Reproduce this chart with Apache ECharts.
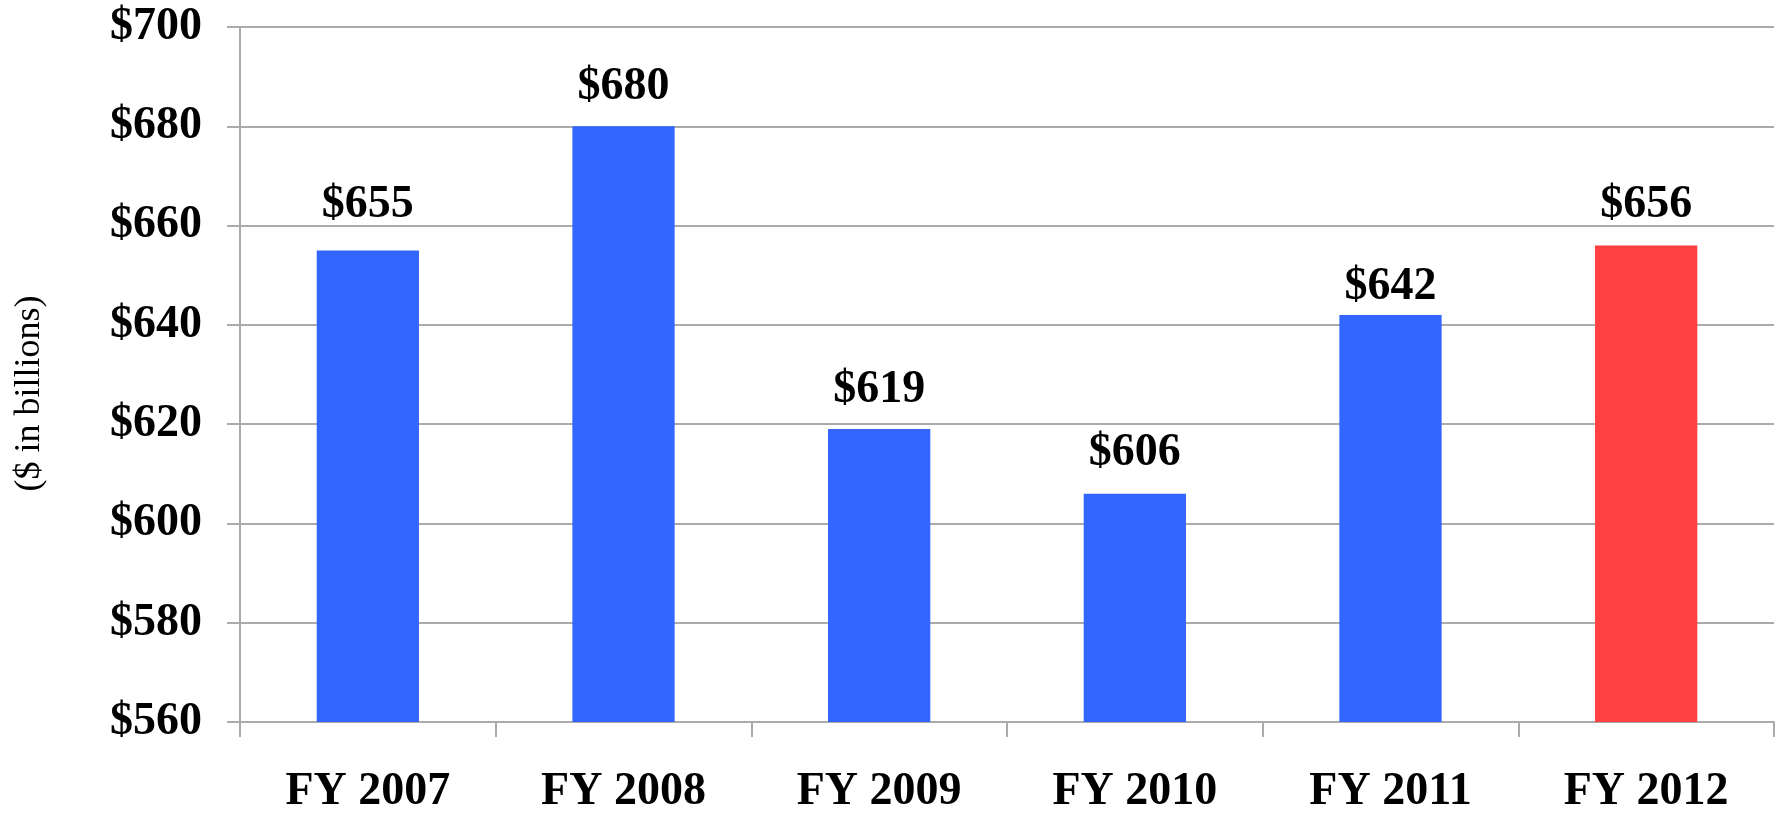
<!DOCTYPE html>
<html>
<head>
<meta charset="utf-8">
<style>
  html, body { margin: 0; padding: 0; background: #fff; }
  #chart { width: 1777px; height: 813px; }
</style>
<script src="https://cdn.jsdelivr.net/npm/echarts@6/dist/echarts.min.js"></script>
</head>
<body>
<div id="chart"></div>
<script>
var categories = ['FY 2007', 'FY 2008', 'FY 2009', 'FY 2010', 'FY 2011', 'FY 2012']
var values = [655, 680, 619, 606, 642, 656]
var highlightIndex = 5   // last year drawn in red

var blue = '#3366FF'
var red = '#FF4040'
var gridGray = '#ababab'
var serif = '"Liberation Serif", "Times New Roman", serif'

// label gap above each bar (the original places them a little unevenly)
var labelGap = [22, 16, 16, 18, 5, 17]

var chart = echarts.init(document.getElementById('chart'))

var option = {
  animation: false,
  backgroundColor: '#fff',
  grid: {
    left: 240,
    right: 3,
    top: 27,
    bottom: 91,
    outerBoundsMode: 'none'
  },
  xAxis: {
    type: 'category',
    data: categories,
    axisLine: { lineStyle: { color: gridGray, width: 2 } },
    axisTick: { show: true, length: 15, lineStyle: { color: gridGray, width: 2 } },
    axisLabel: {
      margin: 47,
      color: '#000',
      fontFamily: serif,
      fontWeight: 'bold',
      fontSize: 46
    }
  },
  yAxis: {
    type: 'value',
    min: 560,
    max: 700,
    interval: 20,
    name: '($ in billions)',
    nameLocation: 'middle',
    nameRotate: 90,
    nameGap: 192,
    nameTextStyle: {
      color: '#000',
      fontFamily: serif,
      fontSize: 36,
      padding: [0, 38, 0, 0]
    },
    axisLine: { show: true, lineStyle: { color: gridGray, width: 2 } },
    axisTick: { show: true, length: 13, lineStyle: { color: gridGray, width: 2 } },
    splitLine: { show: true, lineStyle: { color: gridGray, width: 2 } },
    axisLabel: {
      margin: 38,
      color: '#000',
      fontFamily: serif,
      fontWeight: 'bold',
      fontSize: 46,
      formatter: function (v) { return '$' + v }
    }
  },
  series: [{
    type: 'bar',
    barWidth: '40%',
    data: values.map(function (v, i) {
      return {
        value: v,
        itemStyle: { color: i === highlightIndex ? red : blue },
        label: { distance: labelGap[i] }
      }
    }),
    label: {
      show: true,
      position: 'top',
      color: '#000',
      fontFamily: serif,
      fontWeight: 'bold',
      fontSize: 46,
      formatter: function (p) { return '$' + p.value }
    }
  }]
}

chart.setOption(option)
</script>
</body>
</html>
